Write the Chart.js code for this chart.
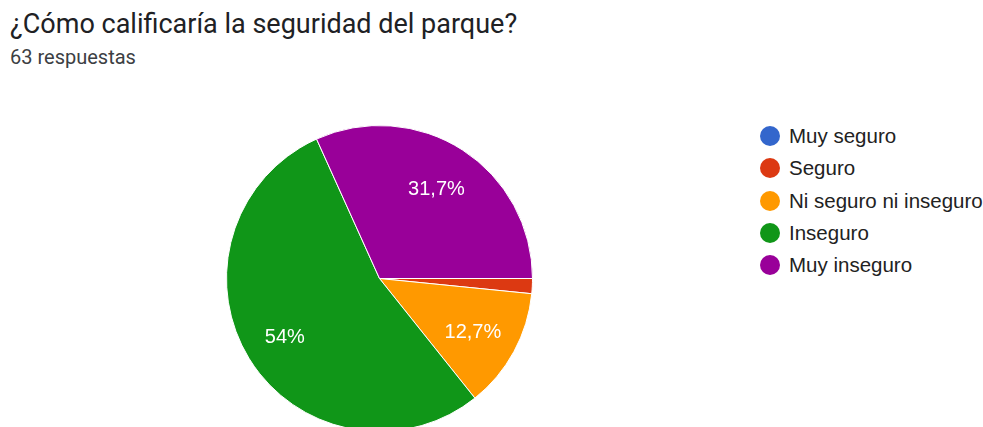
<!DOCTYPE html>
<html>
<head>
<meta charset="utf-8">
<script src="https://cdn.jsdelivr.net/npm/chart.js@4"></script>
<style>
  body { margin: 0; width: 983px; height: 427px; overflow: hidden; background: #fff; position: relative; }
  #title { position: absolute; left: 10px; top: 8px; font: 27px Roboto, sans-serif; color: #202124; white-space: nowrap; line-height: 32px; }
  #subtitle { position: absolute; left: 10px; top: 45px; font: 20px Roboto, sans-serif; color: #3c4043; white-space: nowrap; line-height: 24px; }
  #pie-box { position: absolute; left: 226px; top: 125px; width: 307px; height: 307px; }
  #legend { position: absolute; left: 760px; top: 120px; font: 20.5px "Liberation Sans", Arial, sans-serif; color: #222; }
  .item { height: 32.3px; display: flex; align-items: center; white-space: nowrap; }
  .dot { width: 20px; height: 20px; border-radius: 50%; margin-right: 9px; }
</style>
</head>
<body>
<div id="title">¿Cómo calificaría la seguridad del parque?</div>
<div id="subtitle">63 respuestas</div>
<div id="pie-box"><canvas id="pieChart" width="307" height="307"></canvas></div>
<div id="legend"></div>
<script>
const labels = ["Muy seguro", "Seguro", "Ni seguro ni inseguro", "Inseguro", "Muy inseguro"];
const counts = [0, 1, 8, 34, 20];
const colors = ["#3366cc", "#dc3912", "#ff9900", "#109618", "#990099"];

// legend built from the same arrays
let legendHtml = "";
labels.forEach((name, i) => {
  legendHtml += `<div class="item"><div class="dot" style="background:${colors[i]}"></div>${name}</div>`;
});
document.getElementById("legend").innerHTML = legendHtml;

function pctText(v, total) {
  let p = Math.round((v / total) * 1000) / 10;
  return String(p).replace(".", ",") + "%";
}

// white percentage text inside the bigger slices
const sliceLabels = {
  id: "sliceLabels",
  afterDatasetsDraw(chart) {
    const ctx = chart.ctx;
    const meta = chart.getDatasetMeta(0);
    const data = chart.data.datasets[0].data;
    const total = data.reduce((a, b) => a + b, 0);
    ctx.save();
    ctx.fillStyle = "#fff";
    ctx.font = '20px "Liberation Sans", Arial, sans-serif';
    ctx.textAlign = "center";
    ctx.textBaseline = "middle";
    meta.data.forEach((arc, i) => {
      if (data[i] / total < 0.05) return;
      const mid = (arc.startAngle + arc.endAngle) / 2;
      const r = arc.outerRadius * 0.71;
      ctx.fillText(pctText(data[i], total), arc.x + Math.cos(mid) * r - 2, arc.y + Math.sin(mid) * r + 2);
    });
    ctx.restore();
  },
};

let pieCanvas = document.getElementById("pieChart").getContext("2d");
new Chart(pieCanvas, {
  type: "pie",
  data: {
    labels: labels,
    datasets: [
      {
        data: counts,
        backgroundColor: colors,
        borderColor: "#fff",
        borderWidth: 1,
      },
    ],
  },
  options: {
    responsive: false,
    animation: false,
    rotation: 90,
    layout: { padding: 0 },
    plugins: {
      legend: { display: false },
      tooltip: { enabled: false },
    },
  },
  plugins: [sliceLabels],
});
</script>
</body>
</html>
